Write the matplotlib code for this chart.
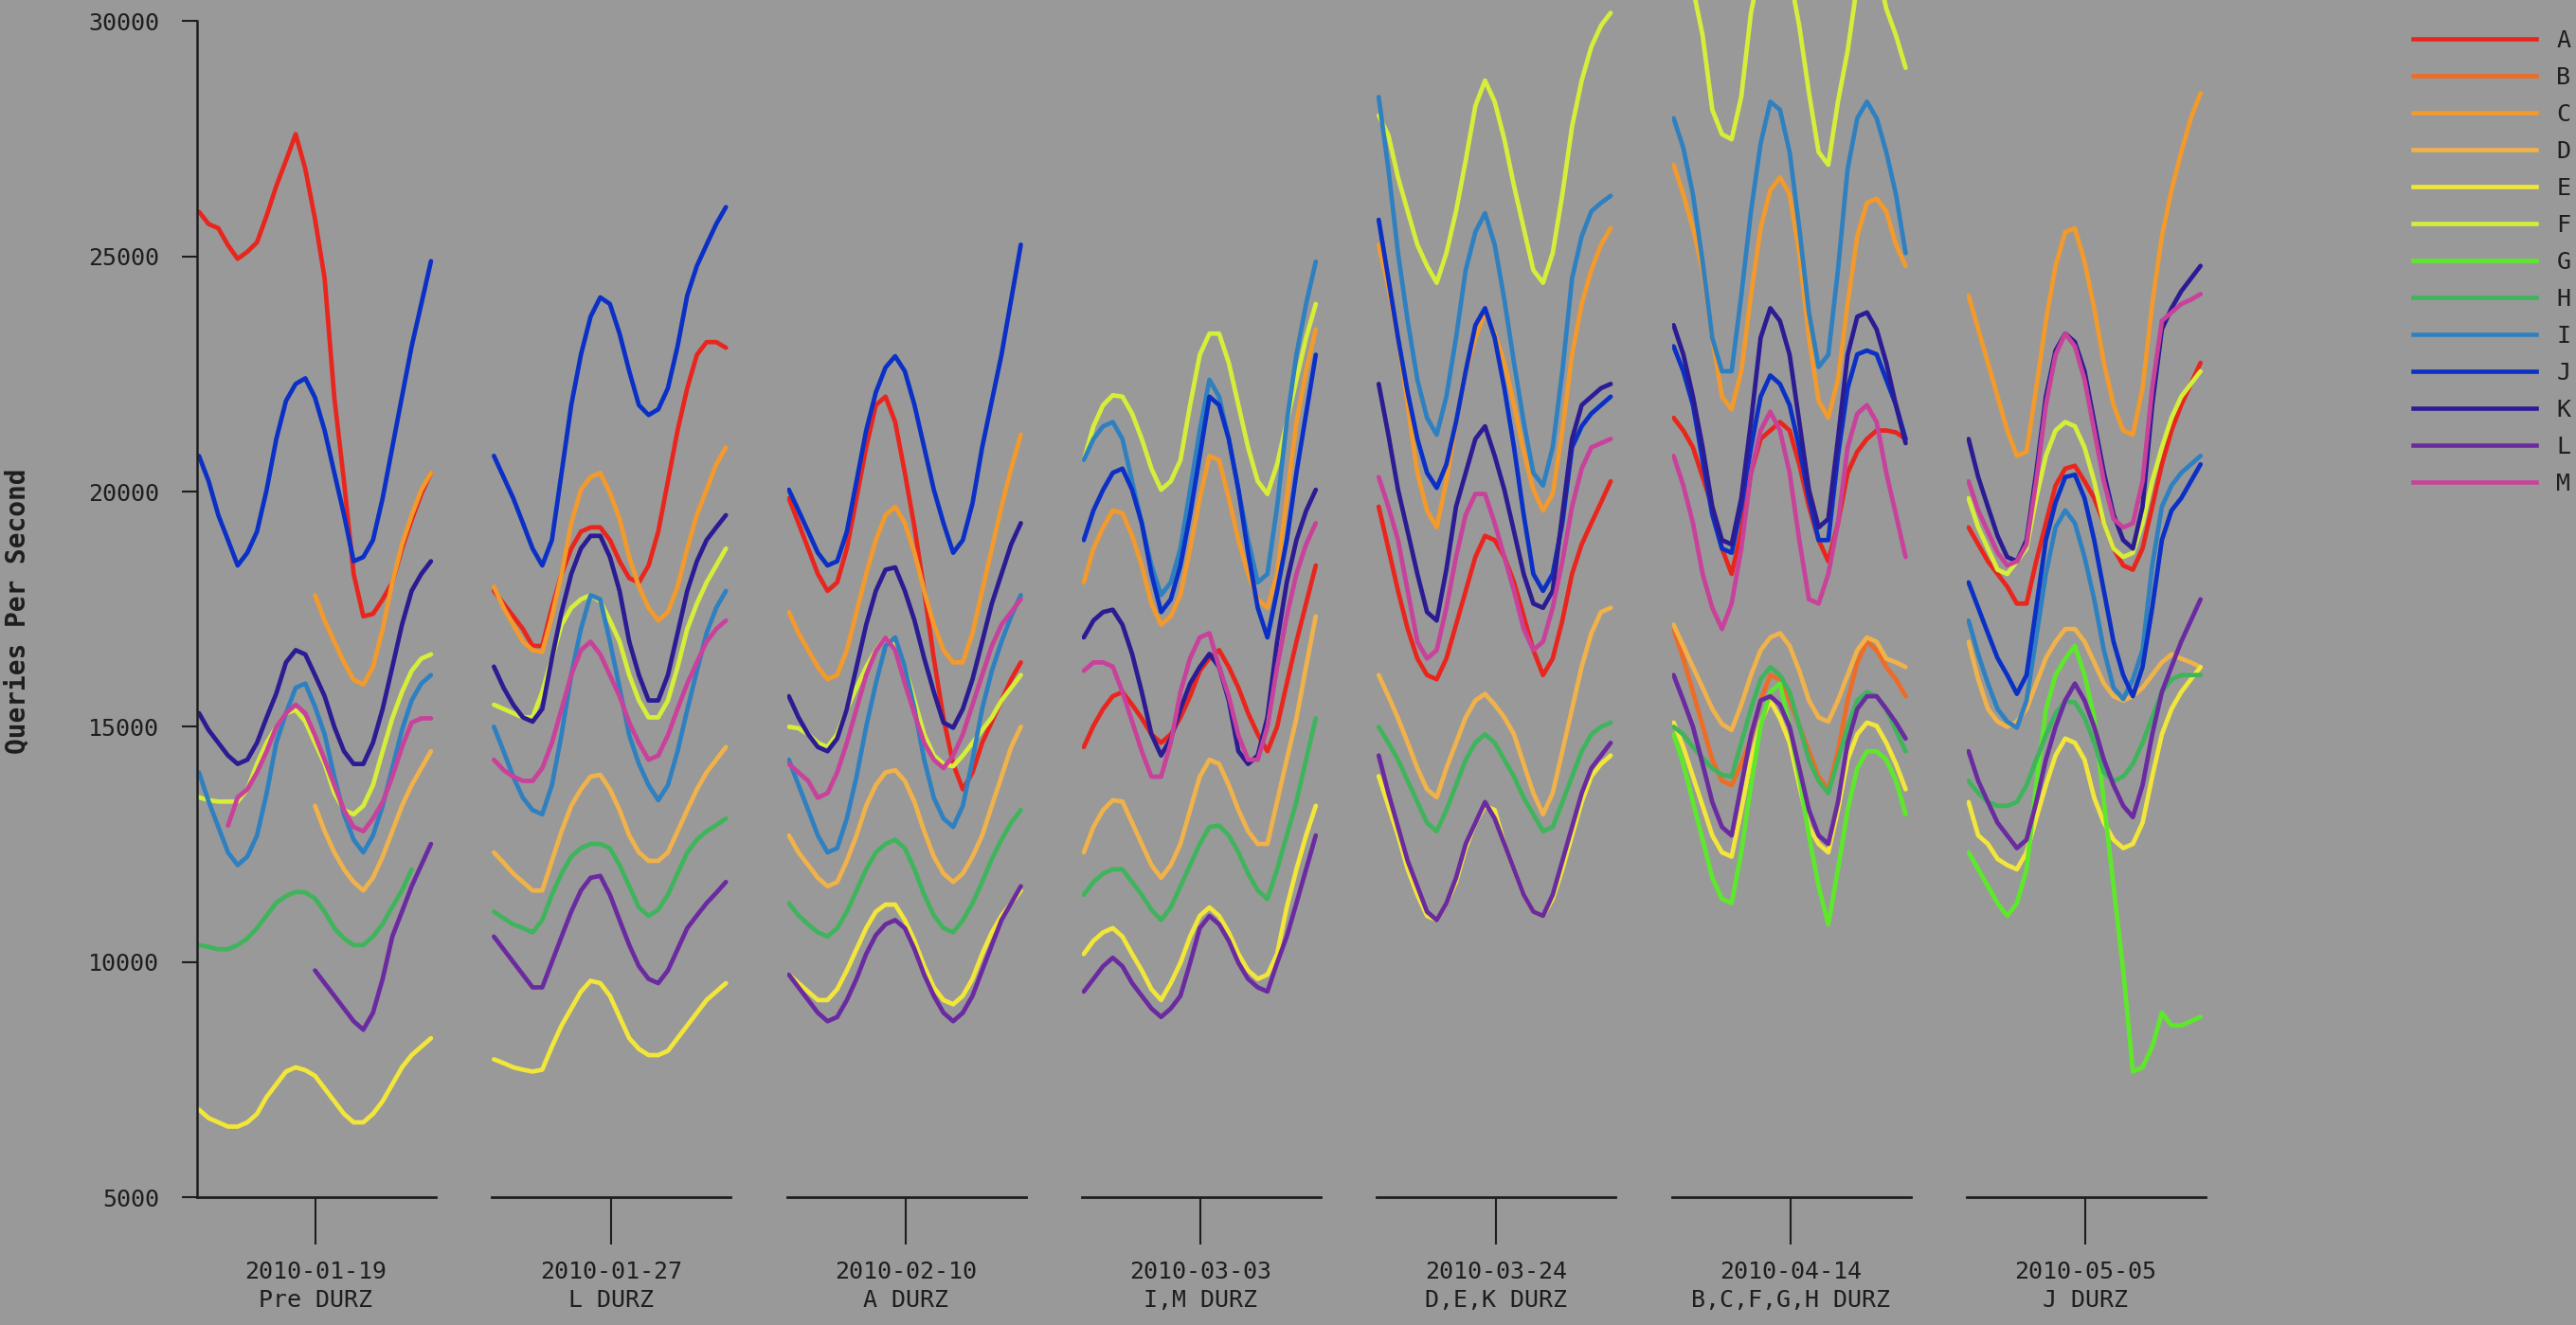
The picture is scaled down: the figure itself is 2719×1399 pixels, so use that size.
import numpy as np
import matplotlib
matplotlib.use("Agg")
import matplotlib.pyplot as plt
from matplotlib.lines import Line2D

nan = np.nan
empty = [nan] * 25

# panel captions
dates = ["2010-01-19", "2010-01-27", "2010-02-10", "2010-03-03",
         "2010-03-24", "2010-04-14", "2010-05-05"]
notes = ["Pre DURZ", "L DURZ", "A DURZ", "I,M DURZ",
         "D,E,K DURZ", "B,C,F,G,H DURZ", "J DURZ"]

names = list("ABCDEFGHIJKLM")
colors = ["#e8261e", "#ee6c26", "#f39a2c", "#f0b24a", "#f2e63a", "#d6ee3a",
          "#5ee82c", "#3fb45c", "#2f80c0", "#0b30c6", "#2b1c94", "#6b2ba0",
          "#c8419a"]

# queries per second, 25 samples per panel, one row per panel
A = [[25950, 25690, 25600, 25240, 24950, 25100, 25300, 25870, 26500, 27040, 27600, 26860, 25800, 24530, 22000, 20220, 18250, 17350, 17400, 17710, 18070, 18790, 19400, 19950, 20400],
     [17890, 17620, 17350, 17080, 16720, 16720, 17530, 18250, 18790, 19150, 19240, 19240, 18970, 18520, 18160, 18070, 18430, 19150, 20220, 21300, 22200, 22910, 23180, 23180, 23060],
     [19860, 19330, 18790, 18250, 17890, 18070, 18790, 19860, 20940, 21840, 22020, 21480, 20400, 19240, 17890, 16450, 15180, 14210, 13670, 14030, 14660, 15110, 15560, 16010, 16370],
     [14570, 15020, 15380, 15650, 15740, 15470, 15180, 14840, 14660, 14840, 15200, 15650, 16190, 16460, 16630, 16270, 15830, 15290, 14840, 14480, 15000, 15920, 16810, 17620, 18430],
     [19680, 18790, 17890, 17080, 16450, 16100, 16010, 16450, 17170, 17890, 18610, 19060, 18970, 18610, 18070, 17350, 16630, 16100, 16450, 17260, 18250, 18880, 19330, 19770, 20220],
     [21570, 21300, 20940, 20310, 19680, 18790, 18250, 19150, 20400, 21120, 21300, 21480, 21300, 20580, 19680, 18970, 18520, 19330, 20400, 20850, 21120, 21300, 21300, 21260, 21120],
     [19240, 18880, 18520, 18250, 17980, 17620, 17620, 18520, 19330, 20130, 20490, 20550, 20220, 19860, 19330, 18790, 18430, 18340, 18790, 19680, 20580, 21300, 21840, 22290, 22740]]
B = [empty, empty, empty, empty, empty,
     [17080, 16450, 15740, 15020, 14300, 13850, 13760, 14210, 14750, 15560, 16100, 16010, 15560, 15020, 14480, 13940, 13670, 14480, 15560, 16370, 16810, 16630, 16270, 16010, 15650],
     empty]
C = [[nan] * 12 + [17800, 17260, 16810, 16370, 16000, 15900, 16270, 17080, 18070, 18880, 19500, 20040, 20400],
     [17980, 17530, 17170, 16810, 16630, 16590, 17350, 18250, 19330, 20040, 20310, 20400, 19970, 19420, 18610, 17980, 17530, 17260, 17440, 17980, 18790, 19510, 20040, 20580, 20940],
     [17440, 16990, 16630, 16270, 16010, 16100, 16630, 17440, 18250, 18970, 19500, 19680, 19330, 18700, 17890, 17170, 16630, 16370, 16370, 16990, 17890, 18790, 19680, 20490, 21210],
     [18070, 18790, 19240, 19600, 19540, 19060, 18430, 17620, 17170, 17350, 17800, 18790, 19860, 20760, 20670, 19860, 18970, 18250, 17710, 17530, 18250, 19860, 21480, 22560, 23450],
     [25250, 24350, 23270, 21840, 20400, 19600, 19240, 20220, 21480, 22560, 23270, 23810, 23360, 22740, 21840, 20850, 20040, 19600, 19950, 21300, 22910, 23990, 24710, 25250, 25600],
     [26950, 26320, 25600, 24710, 23270, 22020, 21750, 22560, 24170, 25600, 26410, 26680, 26320, 25070, 23270, 21930, 21570, 22380, 23990, 25430, 26140, 26230, 25960, 25250, 24800],
     [24170, 23450, 22740, 22020, 21300, 20760, 20850, 22200, 23630, 24800, 25520, 25600, 24890, 23900, 22740, 21840, 21300, 21210, 22200, 23990, 25430, 26410, 27220, 27940, 28470]]
D = [[nan] * 12 + [13320, 12780, 12330, 11970, 11700, 11520, 11790, 12240, 12780, 13320, 13760, 14120, 14480],
     [12330, 12110, 11880, 11700, 11520, 11520, 12150, 12780, 13320, 13670, 13940, 13980, 13670, 13230, 12690, 12330, 12150, 12150, 12330, 12780, 13230, 13670, 14030, 14300, 14570],
     [12690, 12330, 12060, 11790, 11610, 11700, 12150, 12690, 13320, 13760, 14030, 14080, 13850, 13400, 12780, 12240, 11880, 11700, 11880, 12240, 12690, 13320, 13940, 14570, 15000],
     [12330, 12870, 13230, 13440, 13410, 12960, 12510, 12060, 11790, 12060, 12510, 13230, 13940, 14300, 14210, 13760, 13230, 12780, 12510, 12510, 13410, 14300, 15180, 16280, 17350],
     [16100, 15650, 15180, 14660, 14120, 13670, 13500, 14120, 14660, 15200, 15560, 15700, 15470, 15200, 14840, 14210, 13590, 13140, 13590, 14480, 15380, 16280, 16990, 17440, 17530],
     [17170, 16720, 16270, 15830, 15380, 15060, 14930, 15470, 16100, 16630, 16900, 16990, 16720, 16190, 15560, 15200, 15110, 15560, 16100, 16630, 16900, 16810, 16450, 16370, 16270],
     [16810, 16010, 15380, 15110, 15000, 15110, 15380, 15920, 16460, 16810, 17080, 17080, 16810, 16370, 15920, 15650, 15560, 15650, 15830, 16100, 16370, 16540, 16450, 16370, 16270]]
E = [[6860, 6680, 6590, 6500, 6500, 6590, 6770, 7130, 7400, 7670, 7760, 7700, 7580, 7310, 7040, 6770, 6590, 6590, 6770, 7040, 7400, 7760, 8020, 8200, 8380],
     [7930, 7850, 7760, 7710, 7670, 7710, 8200, 8650, 9010, 9370, 9600, 9550, 9280, 8830, 8380, 8150, 8020, 8020, 8110, 8380, 8650, 8920, 9190, 9370, 9550],
     [9730, 9550, 9370, 9190, 9190, 9420, 9820, 10270, 10720, 11070, 11220, 11220, 10890, 10450, 9910, 9460, 9190, 9100, 9280, 9640, 10170, 10630, 10980, 11250, 11520],
     [10170, 10450, 10630, 10720, 10540, 10170, 9820, 9420, 9190, 9550, 9980, 10540, 10980, 11160, 10980, 10630, 10170, 9820, 9640, 9730, 10170, 11160, 11970, 12690, 13320],
     [13950, 13320, 12690, 11970, 11430, 10980, 10890, 11250, 11700, 12420, 12960, 13320, 13230, 12510, 11970, 11430, 11070, 10980, 11340, 11970, 12690, 13400, 13950, 14210, 14390],
     [15090, 14570, 13940, 13320, 12690, 12330, 12240, 13230, 14300, 15090, 15560, 15180, 14660, 13760, 12870, 12510, 12330, 13230, 14300, 14840, 15090, 15020, 14660, 14210, 13670],
     [13400, 12690, 12510, 12190, 12060, 11970, 12330, 13050, 13760, 14390, 14750, 14660, 14300, 13490, 12960, 12600, 12420, 12510, 12960, 13940, 14840, 15380, 15740, 16010, 16270]]
F = [[13500, 13440, 13410, 13410, 13410, 13670, 14210, 14660, 15000, 15290, 15360, 15110, 14660, 14210, 13590, 13230, 13140, 13320, 13760, 14480, 15180, 15740, 16190, 16450, 16540],
     [15470, 15380, 15290, 15200, 15200, 15740, 16460, 17170, 17530, 17710, 17800, 17670, 17260, 16810, 16100, 15560, 15200, 15200, 15560, 16270, 17080, 17620, 18070, 18430, 18790],
     [15000, 14970, 14840, 14660, 14570, 14840, 15380, 15830, 16270, 16630, 16900, 16720, 16270, 15560, 14840, 14390, 14210, 14160, 14390, 14660, 14930, 15200, 15560, 15830, 16100],
     [20670, 21390, 21840, 22050, 22020, 21660, 21120, 20490, 20040, 20220, 20670, 21840, 22910, 23360, 23360, 22740, 21840, 20940, 20220, 19950, 20580, 21480, 22380, 23270, 23990],
     [28000, 27580, 26680, 25960, 25250, 24800, 24440, 25070, 25960, 27040, 28200, 28740, 28290, 27490, 26500, 25600, 24710, 24440, 25070, 26320, 27760, 28740, 29460, 29910, 30180],
     [31500, 31200, 30700, 29700, 28120, 27600, 27490, 28400, 30180, 31200, 31800, 31800, 31000, 29900, 28480, 27220, 26950, 28290, 29370, 30800, 31500, 31200, 30270, 29700, 29010],
     [19860, 19240, 18790, 18340, 18250, 18520, 18790, 19860, 20760, 21300, 21480, 21390, 20940, 20220, 19330, 18790, 18610, 18700, 19330, 20220, 20940, 21570, 22020, 22290, 22560]]
G = [empty, empty, empty, empty, empty,
     [14840, 14210, 13400, 12600, 11790, 11340, 11250, 12330, 13760, 15020, 15740, 15920, 15000, 13940, 12690, 11610, 10800, 11970, 13230, 14120, 14480, 14480, 14300, 13850, 13140],
     [12330, 11970, 11610, 11250, 10980, 11250, 11970, 13760, 15360, 16100, 16450, 16720, 16100, 15200, 13400, 11610, 9820, 7670, 7760, 8200, 8920, 8650, 8650, 8740, 8830]]
H = [[10360, 10320, 10270, 10270, 10360, 10500, 10720, 10990, 11260, 11400, 11490, 11480, 11350, 11070, 10720, 10500, 10360, 10360, 10540, 10810, 11170, 11520, 11970, nan, nan],
     [11070, 10930, 10800, 10720, 10630, 10890, 11430, 11880, 12240, 12420, 12510, 12510, 12420, 12060, 11610, 11160, 10980, 11110, 11430, 11880, 12330, 12600, 12780, 12910, 13050],
     [11250, 10990, 10800, 10630, 10540, 10720, 11070, 11520, 11970, 12330, 12510, 12600, 12420, 11970, 11430, 10990, 10720, 10630, 10890, 11250, 11700, 12190, 12600, 12960, 13230],
     [11430, 11700, 11880, 11970, 11970, 11700, 11430, 11110, 10890, 11160, 11610, 12060, 12510, 12870, 12900, 12690, 12330, 11880, 11520, 11340, 11970, 12690, 13410, 14300, 15180],
     [15000, 14660, 14300, 13850, 13400, 12960, 12780, 13230, 13760, 14300, 14660, 14840, 14660, 14300, 13940, 13490, 13140, 12780, 12870, 13400, 13940, 14480, 14840, 15000, 15090],
     [15000, 14840, 14570, 14340, 14120, 13980, 13940, 14660, 15380, 16010, 16270, 16100, 15740, 15020, 14300, 13850, 13590, 14300, 15000, 15560, 15740, 15650, 15380, 14930, 14480],
     [13850, 13590, 13400, 13320, 13320, 13400, 13760, 14300, 14820, 15290, 15540, 15520, 15200, 14660, 14030, 13850, 13940, 14210, 14660, 15200, 15740, 16010, 16100, 16100, 16100]]
I = [[14030, 13410, 12870, 12330, 12060, 12240, 12690, 13590, 14660, 15290, 15830, 15920, 15430, 14840, 13940, 13140, 12600, 12330, 12690, 13320, 14120, 14930, 15560, 15920, 16100],
     [15000, 14480, 13940, 13490, 13230, 13140, 13760, 14840, 16100, 17080, 17800, 17710, 16810, 15830, 14820, 14210, 13760, 13440, 13760, 14480, 15360, 16190, 16990, 17530, 17890],
     [14300, 13760, 13230, 12690, 12330, 12420, 13050, 13940, 15000, 15920, 16720, 16900, 16270, 15380, 14300, 13490, 13050, 12870, 13320, 14300, 15380, 16190, 16810, 17350, 17800],
     [20670, 21120, 21390, 21480, 21120, 20220, 19330, 18430, 17800, 18070, 18790, 20040, 21300, 22380, 22020, 21120, 20040, 18970, 18070, 18250, 19680, 21480, 22910, 23990, 24890],
     [28390, 26860, 25070, 23630, 22380, 21570, 21210, 22020, 23270, 24710, 25520, 25920, 25250, 24080, 22740, 21480, 20400, 20130, 20940, 22560, 24530, 25430, 25960, 26140, 26290],
     [27940, 27310, 26320, 24890, 23270, 22560, 22560, 24170, 25960, 27400, 28290, 28120, 27220, 25600, 23810, 22650, 22910, 24710, 26860, 27940, 28290, 27940, 27220, 26320, 25070],
     [17260, 16540, 15920, 15380, 15110, 14980, 15560, 16900, 18250, 19240, 19600, 19330, 18610, 17710, 16630, 15830, 15590, 16010, 16630, 18430, 19680, 20130, 20400, 20580, 20760]]
J = [[20760, 20220, 19500, 18970, 18430, 18700, 19150, 20040, 21120, 21930, 22290, 22410, 22000, 21300, 20400, 19510, 18520, 18610, 18970, 19860, 20940, 22020, 23090, 23990, 24900],
     [20760, 20310, 19860, 19330, 18790, 18430, 18970, 20400, 21840, 22910, 23720, 24130, 23990, 23360, 22560, 21840, 21630, 21750, 22200, 23090, 24170, 24800, 25250, 25690, 26050],
     [20040, 19600, 19150, 18700, 18430, 18520, 19150, 20220, 21300, 22110, 22640, 22880, 22560, 21840, 20940, 20040, 19330, 18700, 18970, 19750, 20940, 21930, 22910, 24080, 25250],
     [18970, 19600, 20040, 20400, 20490, 20040, 19330, 18250, 17440, 17710, 18430, 19510, 20760, 22020, 21840, 21120, 20040, 18700, 17530, 16900, 17890, 18970, 20400, 21660, 22910],
     [25780, 24530, 23270, 22110, 21120, 20400, 20080, 20580, 21480, 22560, 23540, 23900, 23270, 22200, 20940, 19510, 18250, 17890, 18250, 19330, 20940, 21390, 21660, 21840, 22020],
     [23090, 22560, 21840, 20670, 19510, 18790, 18700, 19680, 20940, 22020, 22470, 22290, 21840, 20940, 19860, 18970, 18970, 20760, 22200, 22920, 23000, 22920, 22380, 21840, 21120],
     [18070, 17530, 16990, 16460, 16100, 15700, 16100, 17530, 18970, 19770, 20310, 20360, 19860, 18970, 17890, 16810, 16100, 15650, 16270, 17530, 18970, 19600, 19860, 20220, 20580]]
K = [[15290, 14930, 14660, 14390, 14210, 14300, 14660, 15200, 15710, 16370, 16630, 16540, 16100, 15650, 15000, 14480, 14210, 14210, 14660, 15380, 16270, 17170, 17890, 18250, 18520],
     [16280, 15830, 15470, 15200, 15110, 15380, 16460, 17440, 18250, 18790, 19060, 19060, 18610, 17890, 16810, 16100, 15560, 15560, 16100, 16990, 17890, 18520, 18970, 19240, 19500],
     [15650, 15200, 14840, 14570, 14480, 14750, 15380, 16270, 17170, 17890, 18340, 18390, 17890, 17260, 16460, 15740, 15090, 14980, 15380, 16010, 16810, 17620, 18250, 18880, 19330],
     [16900, 17260, 17440, 17490, 17170, 16550, 15740, 14840, 14390, 14750, 15380, 15920, 16270, 16550, 16270, 15560, 14480, 14210, 14390, 15200, 16810, 18070, 18970, 19590, 20040],
     [22290, 21210, 20040, 19150, 18250, 17440, 17260, 18340, 19680, 20400, 21120, 21390, 20760, 20040, 19150, 18250, 17620, 17530, 17890, 19510, 21120, 21840, 22020, 22200, 22290],
     [23540, 22920, 22020, 20940, 19680, 18970, 18880, 19860, 21480, 23270, 23900, 23630, 22910, 21480, 20040, 19240, 19420, 21120, 22910, 23720, 23810, 23450, 22740, 21840, 21030],
     [21120, 20310, 19680, 19060, 18610, 18520, 18970, 20400, 22020, 23000, 23360, 23180, 22560, 21480, 20400, 19510, 18970, 18790, 19680, 21840, 23450, 23900, 24260, 24530, 24800]]
L = [[nan] * 12 + [9820, 9550, 9280, 9010, 8740, 8560, 8920, 9640, 10540, 11070, 11610, 12060, 12510],
     [10540, 10270, 10000, 9730, 9460, 9460, 10000, 10540, 11070, 11520, 11790, 11830, 11430, 10890, 10360, 9910, 9640, 9550, 9820, 10270, 10720, 10990, 11250, 11470, 11700],
     [9730, 9460, 9190, 8920, 8740, 8830, 9190, 9640, 10170, 10570, 10800, 10890, 10720, 10270, 9730, 9280, 8920, 8740, 8920, 9280, 9820, 10360, 10890, 11250, 11610],
     [9370, 9640, 9910, 10090, 9910, 9550, 9280, 9010, 8830, 9010, 9280, 9980, 10720, 10980, 10800, 10450, 9980, 9640, 9460, 9370, 9980, 10540, 11250, 11970, 12690],
     [14390, 13590, 12870, 12150, 11610, 11070, 10890, 11250, 11790, 12510, 12960, 13400, 13050, 12510, 11970, 11430, 11070, 10980, 11430, 12150, 12870, 13590, 14120, 14390, 14660],
     [16100, 15560, 15000, 14210, 13400, 12870, 12690, 13760, 14820, 15560, 15650, 15470, 15000, 14120, 13230, 12690, 12510, 13400, 14660, 15380, 15650, 15650, 15380, 15090, 14750],
     [14480, 13850, 13400, 12960, 12690, 12420, 12600, 13400, 14300, 15000, 15560, 15920, 15560, 15000, 14300, 13760, 13320, 13080, 13760, 14840, 15740, 16280, 16810, 17260, 17710]]
M = [[nan, nan, nan, 12900, 13500, 13670, 14030, 14480, 15000, 15290, 15470, 15290, 14820, 14300, 13760, 13230, 12870, 12780, 13050, 13400, 13940, 14570, 15090, 15180, 15180],
     [14300, 14080, 13940, 13850, 13850, 14120, 14660, 15380, 16100, 16630, 16810, 16540, 16100, 15650, 15090, 14660, 14300, 14390, 14820, 15380, 15920, 16370, 16810, 17080, 17260],
     [14210, 14030, 13850, 13490, 13590, 14030, 14660, 15380, 16100, 16610, 16900, 16630, 15920, 15270, 14660, 14300, 14120, 14390, 14840, 15470, 16100, 16720, 17170, 17440, 17710],
     [16190, 16370, 16370, 16280, 15740, 15110, 14480, 13940, 13940, 14660, 15740, 16460, 16900, 16990, 16270, 15650, 14820, 14300, 14300, 15000, 16270, 17350, 18250, 18880, 19330],
     [20310, 19680, 18970, 17890, 16810, 16450, 16630, 17530, 18610, 19510, 19950, 19950, 19330, 18610, 17890, 17080, 16630, 16810, 17530, 18520, 19680, 20490, 20940, 21030, 21120],
     [20760, 20130, 19330, 18250, 17530, 17080, 17620, 18790, 20400, 21300, 21700, 21300, 20400, 18970, 17710, 17620, 18250, 19330, 20940, 21660, 21840, 21480, 20400, 19510, 18610],
     [20220, 19600, 19150, 18700, 18430, 18520, 18880, 20220, 21840, 22910, 23360, 23090, 22380, 21300, 20220, 19420, 19240, 19330, 20220, 22200, 23630, 23810, 23990, 24080, 24200]]

series = [A, B, C, D, E, F, G, H, I, J, K, L, M]
samples = np.arange(25)

bg = "#999999"
ink = "#1e1e1e"
mono = "DejaVu Sans Mono"

W, Hpx = 2719, 1399
fig = plt.figure(figsize=(W / 100, Hpx / 100), dpi=100, facecolor=bg)

for p in range(7):
    left = 208 + 311.3 * p
    ax = fig.add_axes([left / W, (Hpx - 1264) / Hpx, 252 / W, 1264 / Hpx])
    ax.set_facecolor(bg)
    for s, c in zip(series, colors):
        ax.plot(samples, s[p], color=c, lw=3.4, solid_joinstyle="round",
                solid_capstyle="round")
    ax.set_xlim(-0.2, 24.5)
    ax.set_ylim(5000, 30453)
    for side in ["top", "right", "left"]:
        ax.spines[side].set_visible(False)
    ax.spines["bottom"].set_linewidth(2.0)
    ax.spines["bottom"].set_color(ink)
    ax.set_xticks([12.1])
    ax.set_xticklabels([dates[p] + "\n" + notes[p]], family=mono, fontsize=18,
                       color=ink, linespacing=1.35)
    ax.tick_params(axis="x", length=36, width=1.5, color=ink, pad=12)
    if p == 0:
        ax.spines["left"].set_visible(True)
        ax.spines["left"].set_linewidth(1.8)
        ax.spines["left"].set_color(ink)
        ax.spines["left"].set_bounds(5000, 30000)
        ax.set_yticks(range(5000, 30001, 5000))
        ax.set_yticklabels([str(v) for v in range(5000, 30001, 5000)],
                           family=mono, fontsize=18, color=ink)
        ax.tick_params(axis="y", length=11.5, width=1.5, color=ink, pad=17)
    else:
        ax.set_yticks([])

fig.text(18 / W, 1 - 645 / Hpx, "Queries Per Second", rotation=90,
         ha="center", va="center", fontsize=20, fontweight="bold",
         family=mono, color=ink)

handles = [Line2D([], [], color=c, lw=3.3) for c in colors]
fig.legend(handles, names, loc="upper left",
           bbox_to_anchor=(2547 / W, 1 - 31 / Hpx), frameon=False,
           handlelength=5.2, handletextpad=0.85, labelspacing=0.6,
           borderpad=0, borderaxespad=0,
           prop={"family": mono, "size": 18}, labelcolor=ink)

fig.savefig("out.png", dpi=100, facecolor=bg)
